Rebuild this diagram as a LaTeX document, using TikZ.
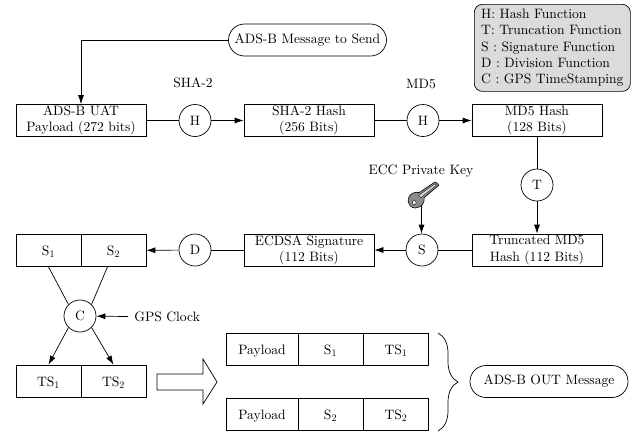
\documentclass[tikz,border=0pt]{standalone}
\usepackage{amsmath}
\usepackage{fontspec}
\setmainfont{lmroman10-regular.otf}
\usetikzlibrary{calc,shapes.misc,decorations.pathreplacing,arrows.meta}

\tikzset{
    textfont/.style = {font=\fontsize{13.6}{16.3}\selectfont},
    msgbox/.style = {draw, rectangle, minimum width=130, minimum height=32, inner sep=0pt, align=center, textfont},
    cellbox/.style = {draw, rectangle, minimum width=65, minimum height=32, inner sep=0pt, text height=12pt, text depth=2pt, textfont},
    funcnode/.style = {draw, circle, minimum size=32, inner sep=0pt, textfont},
    pillnode/.style = {draw, rounded rectangle, minimum height=32, inner sep=0pt, textfont},
    plainlabel/.style = {inner sep=0pt, textfont},
    link/.style = {draw, -{Latex[length=9pt,width=6pt]}}
}

\begin{document}
\begin{tikzpicture}[x = 1pt, y = -1pt, line width=0.7pt]
    \useasboundingbox (0,0) rectangle (633,432);

    % top row
    \node[pillnode, minimum width=158] (msg) at (307.5,40) {ADS-B Message to Send};
    \node[msgbox] (uat) at (81,120.5) {ADS-B UAT\\Payload (272 bits)};
    \node[funcnode] (h1) at (195,120.5) {H};
    \node[msgbox] (sha) at (309,120.5) {SHA-2 Hash\\(256 Bits)};
    \node[funcnode] (h2) at (423,120.5) {H};
    \node[msgbox] (md) at (537,120.5) {MD5 Hash\\(128 Bits)};
    \node[plainlabel] (shalabel) at (193,83) {SHA-2};
    \node[plainlabel] (mdlabel) at (421,84) {MD5};
    \node[draw, fill=black!14, rounded corners=8pt, minimum width=156, minimum height=87, inner xsep=3.5pt, inner ysep=0pt, align=left, anchor=north west, textfont] (legend) at (474,4)
        {H: Hash Function\\T: Truncation Function\\S : Signature Function\\D : Division Function\\C : GPS TimeStamping};

    % middle row
    \node[funcnode] (t) at (537,185) {T};
    \node[msgbox] (trunc) at (537,250) {Truncated MD5\\Hash (112 Bits)};
    \node[funcnode] (s) at (422,250) {S};
    \node[msgbox] (ecdsa) at (309,250) {ECDSA Signature\\(112 Bits)};
    \node[funcnode] (d) at (195,250) {D};
    \node[cellbox] (sa) at (48.5,250.5) {S$_1$};
    \node[cellbox] (sb) at (113.5,250.5) {S$_2$};
    \node[plainlabel] (ecc) at (421,171) {ECC Private Key};
    \coordinate (keytip) at (421.5,203);

    % bottom
    \node[funcnode] (c) at (80,316) {C};
    \node[plainlabel, anchor=west, inner xsep=6pt] (gps) at (128,316.5) {GPS Clock};
    \node[cellbox] (tsa) at (48.5,381) {TS$_1$};
    \node[cellbox] (tsb) at (113.5,381) {TS$_2$};
    \node[cellbox, minimum width=72] (pa) at (262,349) {Payload};
    \node[cellbox] (sc) at (330.5,349) {S$_1$};
    \node[cellbox] (tsc) at (396,349) {TS$_1$};
    \node[cellbox, minimum width=72] (pb) at (262,414) {Payload};
    \node[cellbox] (sd) at (330.5,414) {S$_2$};
    \node[cellbox] (tsd) at (396,414) {TS$_2$};
    \node[pillnode, minimum width=158] (out) at (549,381.5) {ADS-B OUT Message};
    \coordinate (bracetop) at (438,333);
    \coordinate (bracebot) at (438,431);

    \draw[link] (msg.west) -| (uat.north);
    \draw (uat) -- (h1);
    \draw[link] (h1) -- (sha);
    \draw (sha) -- (h2);
    \draw[link] (h2) -- (md);
    \draw (md) -- (t);
    \draw[link] (t) -- (trunc);
    \draw (trunc) -- (s);
    \draw[link] (s) -- (ecdsa);
    \draw (ecdsa) -- (d);
    \draw[link] (d) -- (sb);
    \draw[link] (keytip) -- (keytip |- s.north);
    \draw (sa.south) -- (c.135);
    \draw ($(sb.south)+(-6,0)$) -- (c.45);
    \draw[link] (c.225) -- (tsa.north);
    \draw[link] (c.-45) -- (tsb.north);
    \draw[link] (gps.west) -- (c);
    \draw[decorate, decoration={brace, amplitude=20pt, aspect=0.5}] (bracetop) -- (bracebot);

    % big arrow
    \draw (157,374) -- (203,374) -- (203,359) -- (217,382) -- (203,404) -- (203,390) -- (157,390) -- cycle;

    % key
    \begin{scope}[shift={(416,200)}, rotate=37]
        \draw[fill=black!45, line width=0.6pt] (-8,2) .. controls (-9,-7) and (1,-11) .. (7,-4) -- (26,-3) -- (27,-1) -- (27,2) -- (8,3) .. controls (4,10) and (-6,9) .. (-8,2) -- cycle;
        \draw[fill=black!15, line width=0.3pt] (5,-2) -- (25,-1.5) -- (25,0.5) -- (5,1) -- cycle;
        \draw[fill=white, line width=0.4pt] (-3,1) circle (2);
    \end{scope}
\end{tikzpicture}
\end{document}
